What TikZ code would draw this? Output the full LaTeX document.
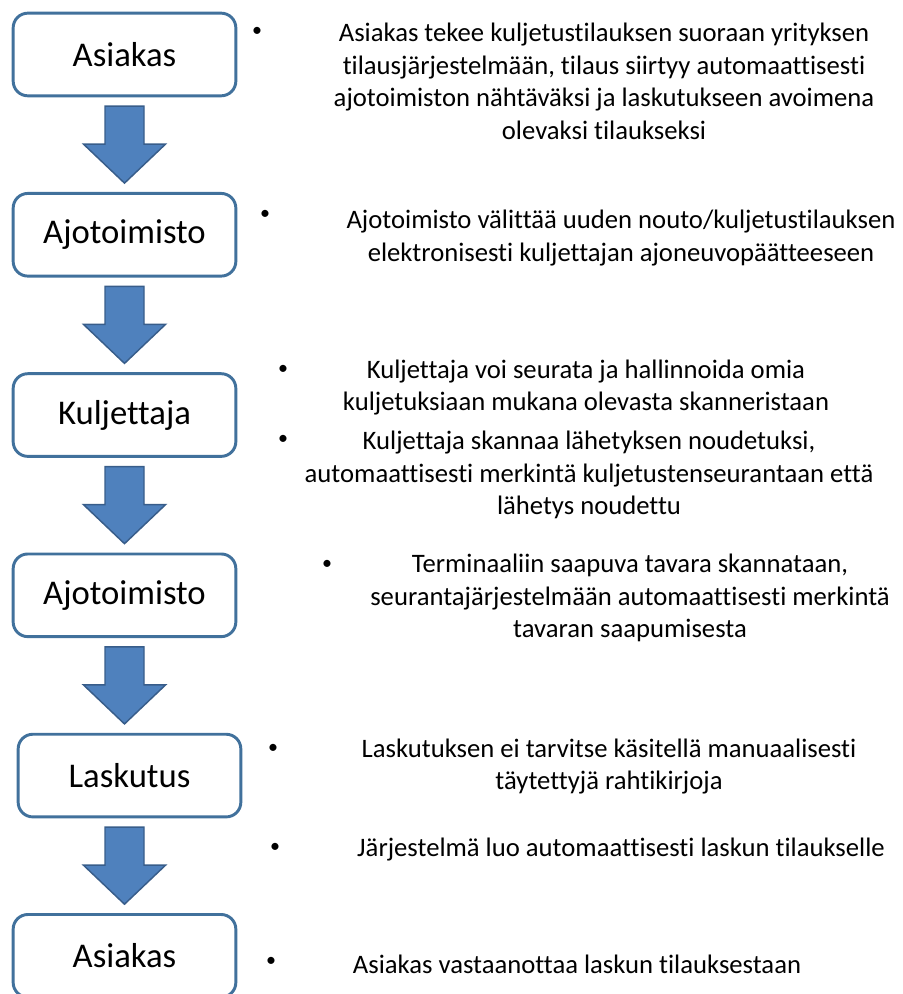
\documentclass[tikz,border=0pt]{standalone}
\usepackage{fontspec}
\setmainfont[RawFeature=-liga, RawFeature=-clig, RawFeature=-calt, RawFeature=-dlig]{Carlito}
\usetikzlibrary{positioning, calc}
\definecolor{boxline}{RGB}{65,113,156}
\definecolor{arrowfill}{RGB}{79,129,189}
\definecolor{arrowline}{RGB}{56,93,138}

\begin{document}
\begin{tikzpicture}[
			x=0.75pt, y=-0.75pt,
			node distance=71pt,
			stage/.style={draw=boxline, line width=2.2pt, rounded corners=11pt, fill=white,
				minimum width=167pt, minimum height=62pt, font=\fontsize{26}{30}\selectfont},
			note/.style={align=center, font=\fontsize{20}{24.4}\selectfont},
			dot/.style={inner sep=0pt, font=\fontsize{15}{18}\selectfont},
			flow/.style={fill=arrowfill, draw=arrowline, line width=1.1pt, line join=miter}
			]
			\useasboundingbox (0,0) rectangle (902,994);
			\clip (0,0) rectangle (902,994);
			
			% Stages
			\node[stage] (asiakas) at (124.5,54.5) {Asiakas};
			\node[stage] (ajoA)  [below=of asiakas] {Ajotoimisto};
			\node[stage] (kulj)  [below=of ajoA] {Kuljettaja};
			\node[stage] (ajoB)  [below=of kulj] {Ajotoimisto};
			\node[stage] (lask)  [below=of ajoB, xshift=3.75pt] {Laskutus};
			\node[stage] (asiakasB) [below=of lask, xshift=-3.75pt] {Asiakas};
			
			% Block arrows
			\foreach \a/\b in {asiakas/ajoA, ajoA/kulj, kulj/ajoB, ajoB/lask, lask/asiakasB}{
				\coordinate (m) at ($(\a.south)!0.5!(\b.north)$);
				\filldraw[flow] ($(asiakas |- m)+(-19.5,-38.5)$) -- ++(39,0) -- ++(0,38)
					-- ++(21.5,0) -- ++(-41,39) -- ++(-41,-39) -- ++(21.5,0) -- cycle;
			}
			
			% Bullets
			\foreach \x/\y [count=\i] in {257/32, 265/215, 283/370, 283/440, 327/565, 273/749, 275/848, 271/962}
				\node[dot] (dot\i) at (\x,\y) {\textbullet};
			
			% Notes
			\node[note] (note1) at (604,81.5) {Asiakas tekee kuljetustilauksen suoraan yrityksen\\tilausjärjestelmään, tilaus siirtyy automaattisesti\\ajotoimiston nähtäväksi ja laskutukseen avoimena\\olevaksi tilaukseksi};
			\node[note] (note2) at (621,238) {Ajotoimisto välittää uuden nouto/kuljetustilauksen\\elektronisesti kuljettajan ajoneuvopäätteeseen};
			\node[note] (note3) at (586,387.5) {Kuljettaja voi seurata ja hallinnoida omia\\kuljetuksiaan mukana olevasta skanneristaan};
			\node[note] (note4) at (589,475) {Kuljettaja skannaa lähetyksen noudetuksi,\\automaattisesti merkintä kuljetustenseurantaan että\\lähetys noudettu};
			\node[note] (note5) at (630,598) {Terminaaliin saapuva tavara skannataan,\\seurantajärjestelmään automaattisesti merkintä\\tavaran saapumisesta};
			\node[note] (note6) at (609,766.5) {Laskutuksen ei tarvitse käsitellä manuaalisesti\\täytettyjä rahtikirjoja};
			\node[note] (note7) at (621,850) {Järjestelmä luo automaattisesti laskun tilaukselle};
			\node[note] (note8) at (577,964) {Asiakas vastaanottaa laskun tilauksestaan};
			
		\end{tikzpicture}
\end{document}
